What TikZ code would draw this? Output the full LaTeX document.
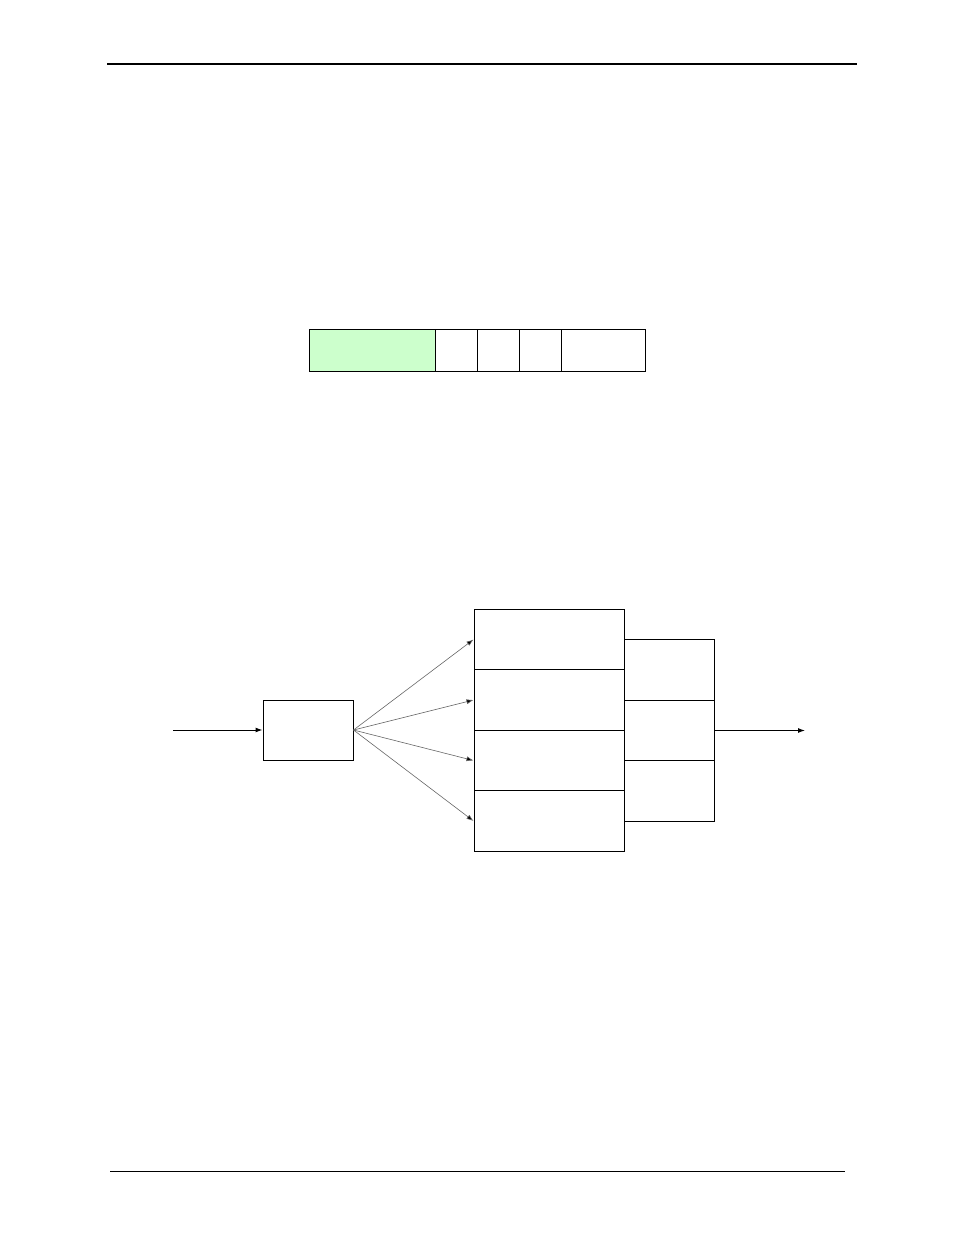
\documentclass[tikz,border=0pt]{standalone}
\usepackage{xcolor}
\usetikzlibrary{positioning,arrows,arrows.meta}
\definecolor{cellgreen}{RGB}{204,255,204}

\begin{document}
\begin{tikzpicture}[x=1pt,y=-1pt,>={Latex[length=7pt,width=5pt]},line width=1pt]
            \tikzstyle{cell}=[draw, minimum height=42, inner sep=0pt]
            \tikzstyle{block}=[draw, inner sep=0pt]
            \tikzstyle{fan}=[-{Latex[length=7pt,width=5pt,fill=black]}, draw=black!60, line width=0.6pt]
            \useasboundingbox (0,0) rectangle (954,1235);
            % page rules
            \draw[line width=2.5pt] (107,64) -- (857,64);
            \draw[line width=1pt] (110,1171) -- (845,1171);
            % cell row
            \node[cell, fill=cellgreen, minimum width=126] (C0) at (372,350) {};
            \node[cell, minimum width=42] (C1) at (456,350) {};
            \node[cell, minimum width=42] (C2) at (498,350) {};
            \node[cell, minimum width=42] (C3) at (540,350) {};
            \node[cell, minimum width=84] (C4) at (603,350) {};
            % block diagram
            \coordinate (in) at (173,730);
            \node[block, minimum width=90, minimum height=60] (A) at (308,730) {};
            \node[block, minimum width=150, minimum height=60.5] (B1) at (549,639.5) {};
            \node[block, minimum width=150, minimum height=60.5] (B2) at (549,700) {};
            \node[block, minimum width=150, minimum height=60.5] (B3) at (549,760.5) {};
            \node[block, minimum width=150, minimum height=60.5] (B4) at (549,821) {};
            \node[block, minimum width=90, minimum height=60.5] (S1) at (669,670) {};
            \node[block, minimum width=90, minimum height=60.5] (S2) at (669,730.5) {};
            \node[block, minimum width=90, minimum height=60.5] (S3) at (669,791) {};
            \coordinate (out) at (805,730.5);
            \draw[->] (in) -- (A.west);
            \path (A.east) edge[fan] (B1.west)
                           edge[fan] (B2.west)
                           edge[fan] (B3.west)
                           edge[fan] (B4.west);
            \draw[->] (S2.east) -- (out);
          \end{tikzpicture}
\end{document}
